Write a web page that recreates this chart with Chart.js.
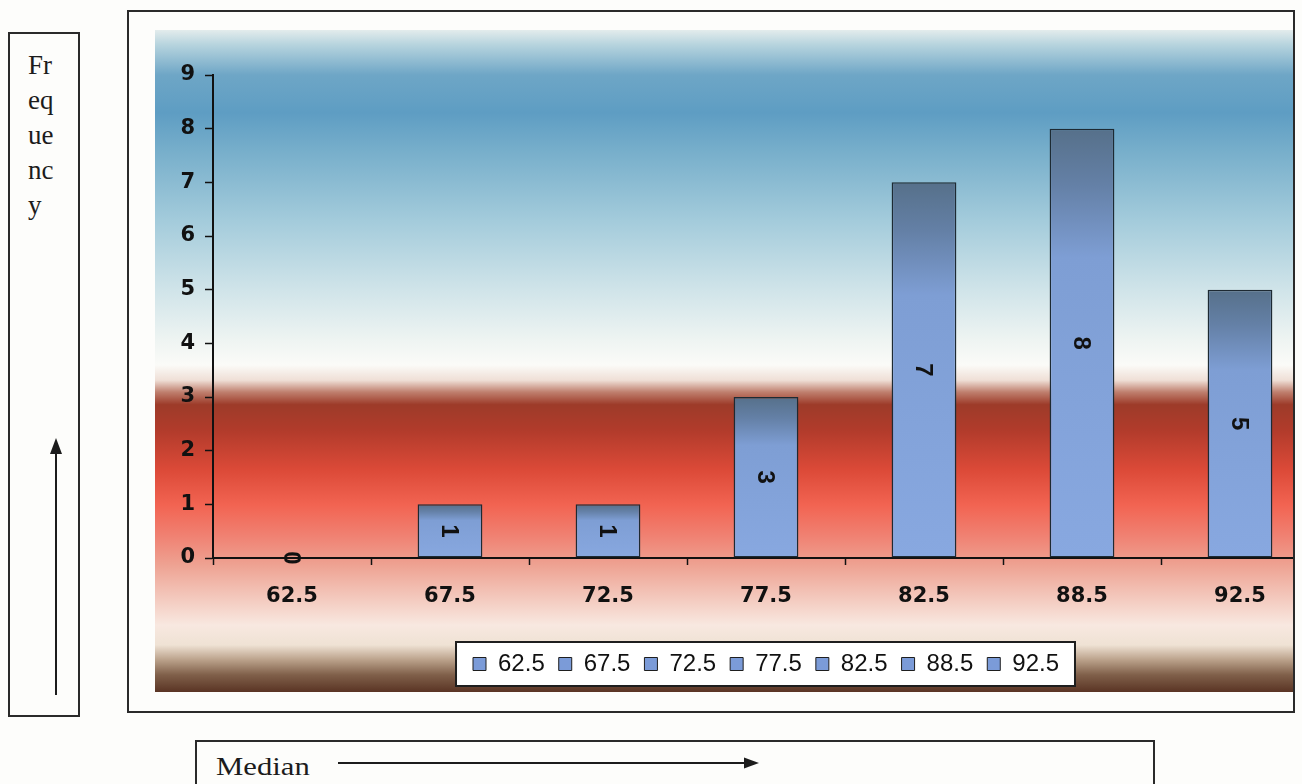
<!DOCTYPE html>
<html>
<head>
<meta charset="utf-8">
<script src="https://cdn.jsdelivr.net/npm/chart.js@4.4.1/dist/chart.umd.min.js"></script>
<style>
  html, body { margin: 0; padding: 0; background: #fdfdfb; }
  body { width: 1302px; height: 784px; position: relative; overflow: hidden; }
  #frame {
    position: absolute; left: 127px; top: 10px; width: 1168px; height: 703px;
    box-sizing: border-box; border: 2px solid #2a2a2a; overflow: hidden; background: #fdfdfb;
  }
  #chart { position: absolute; left: 26px; top: 18px; }
  #ybox {
    position: absolute; left: 8px; top: 32px; width: 72px; height: 685px;
    box-sizing: border-box; border: 2px solid #2a2a2a; background: #fdfdfb;
  }
  #ybox .title {
    position: absolute; left: 18px; top: 14px;
    font-family: "Liberation Serif", "DejaVu Serif", serif; font-size: 27px; line-height: 35px; color: #1c1c1c;
  }
  #xbox {
    position: absolute; left: 195px; top: 740px; width: 960px; height: 70px;
    box-sizing: border-box; border: 2px solid #2a2a2a; background: #fdfdfb;
  }
  #xbox .title {
    position: absolute; left: 19px; top: 10px; transform-origin: 0 0; transform: scaleX(1.18);
    font-family: "Liberation Serif", "DejaVu Serif", serif; font-size: 26px; line-height: 30px; color: #1c1c1c;
  }
  svg.arrow { position: absolute; overflow: visible; }
</style>
</head>
<body>

<div id="ybox">
  <div class="title">Fr<br>eq<br>ue<br>nc<br>y</div>
  <svg class="arrow" width="70" height="680" style="left:0;top:0">
    <line x1="46" y1="661" x2="46" y2="418" stroke="#1c1c1c" stroke-width="2"/>
    <polygon points="46,404 40,420 52,420" fill="#1c1c1c"/>
  </svg>
</div>

<div id="frame">
  <canvas id="chart" width="1164" height="662"></canvas>
</div>

<div id="xbox">
  <div class="title">Median</div>
  <svg class="arrow" width="960" height="60" style="left:0;top:0">
    <line x1="141" y1="21" x2="550" y2="21" stroke="#1c1c1c" stroke-width="2"/>
    <polygon points="562,21 547,15.5 547,26.5" fill="#1c1c1c"/>
  </svg>
</div>

<script>
// Median class marks and how many items fall in each
const medians = ['62.5', '67.5', '72.5', '77.5', '82.5', '88.5', '92.5'];
const frequencies = [0, 1, 1, 3, 7, 8, 5];
const yTicks = [0, 1, 2, 3, 4, 5, 6, 7, 8, 9];

const barFlat = '#84a4dc';
const legendSwatch = '#7b9bd8';

// Plot background: sky blue on top, fading to white, then a red band and brown base
const backdrop = {
  id: 'backdrop',
  beforeDraw(chart) {
    const { ctx, width, height } = chart;
    const g = ctx.createLinearGradient(0, 0, 0, height);
    const stops = [
      [0.000, '#e3ecec'], [0.022, '#b7d4de'], [0.068, '#6ea6c6'], [0.125, '#5e9dc3'],
      [0.185, '#78afcb'], [0.287, '#a3cbdb'], [0.393, '#d0e4e9'], [0.468, '#eef4f2'],
      [0.506, '#fbfbf8'], [0.529, '#efdfd6'], [0.547, '#bf7f6e'], [0.566, '#9d3b29'],
      [0.604, '#b13b2b'], [0.665, '#dc4a38'], [0.718, '#f26452'], [0.764, '#f08172'],
      [0.808, '#eea292'], [0.853, '#f3c5b9'], [0.899, '#f8e8e0'], [0.929, '#efe2d4'],
      [0.952, '#b9a089'], [0.974, '#80604a'], [1.000, '#5a3424']
    ];
    stops.forEach(([o, c]) => g.addColorStop(o, c));
    ctx.save();
    ctx.fillStyle = g;
    ctx.fillRect(0, 0, width, height);

    // white framed panel behind the legend entries
    const lg = chart.legend;
    if (lg && lg.legendHitBoxes && lg.legendHitBoxes.length) {
      const hb = lg.legendHitBoxes;
      const first = hb[0], last = hb[hb.length - 1];
      const l = first.left - 17, r = last.left + last.width + 16;
      const t = first.top - 10, b = first.top + first.height + 10;
      ctx.fillStyle = '#ffffff';
      ctx.fillRect(l, t, r - l, b - t);
      ctx.strokeStyle = '#1e1e1e';
      ctx.lineWidth = 2;
      ctx.strokeRect(l, t, r - l, b - t);
    }
    ctx.restore();
  }
};

// Value of each bar, rotated a quarter turn, at the middle of the bar
const barValues = {
  id: 'barValues',
  afterDatasetsDraw(chart) {
    const { ctx } = chart;
    const meta = chart.getDatasetMeta(0);
    ctx.save();
    ctx.font = 'bold 24px "Liberation Sans", Arial, sans-serif';
    ctx.fillStyle = '#111';
    ctx.textAlign = 'center';
    ctx.textBaseline = 'middle';
    meta.data.forEach((bar, i) => {
      const cy = (bar.y + bar.base) / 2;
      ctx.save();
      ctx.translate(bar.x, cy);
      ctx.rotate(Math.PI / 2);
      ctx.fillText(String(frequencies[i]), 0, 1);
      ctx.restore();
    });
    ctx.restore();
  }
};

function barFill(c) {
  const chart = c.chart;
  if (c.type !== 'data' || !chart.chartArea || !chart.scales.y) return barFlat;
  const y = chart.scales.y;
  const top = y.getPixelForValue(c.raw);
  const base = y.getPixelForValue(0);
  if (base - top < 1) return barFlat;
  const g = chart.ctx.createLinearGradient(0, top, 0, base);
  g.addColorStop(0, '#56708a');
  g.addColorStop(0.13, '#6480a6');
  g.addColorStop(0.3, '#7e9ed4');
  g.addColorStop(1, '#88a8e0');
  return g;
}

new Chart(document.getElementById('chart'), {
  type: 'bar',
  data: {
    labels: medians,
    datasets: [{
      label: 'Frequency',
      data: frequencies,
      backgroundColor: barFill,
      borderColor: '#1d2a33',
      borderWidth: 1.5,
      borderSkipped: false,
      barPercentage: 0.41,
      categoryPercentage: 1.0
    }]
  },
  options: {
    responsive: false,
    animation: false,
    layout: { padding: { top: 45, left: 0, right: 0, bottom: 6 } },
    scales: {
      x: {
        offset: true,
        grid: { display: true, offset: true, drawOnChartArea: false, drawTicks: true,
                tickLength: 7, tickColor: '#111', tickWidth: 1.5 },
        border: { display: true, color: '#111', width: 2 },
        ticks: { color: '#111', padding: 19, maxRotation: 0,
                 font: { family: '"DejaVu Sans", sans-serif', size: 21, weight: 'bold' } },
        afterFit(s) { s.height = 80; }
      },
      y: {
        min: 0, max: 9,
        afterBuildTicks(s) { s.ticks = yTicks.map(v => ({ value: v })); },
        grid: { display: true, drawOnChartArea: false, drawTicks: true,
                tickLength: 8, tickColor: '#111', tickWidth: 1.5 },
        border: { display: true, color: '#111', width: 2 },
        ticks: { color: '#111', padding: 10,
                 font: { family: '"DejaVu Sans", sans-serif', size: 21, weight: 'bold' } },
        afterFit(s) { s.width = 58; }
      }
    },
    plugins: {
      tooltip: { enabled: false },
      legend: {
        position: 'bottom',
        fullSize: false,
        labels: {
          boxWidth: 13, boxHeight: 13, padding: 14, color: '#111',
          font: { family: '"Liberation Sans", Arial, sans-serif', size: 24 },
          generateLabels: () => medians.map((m, i) => ({
            text: m, fillStyle: legendSwatch, strokeStyle: '#1e1e1e', lineWidth: 1,
            hidden: false, index: i, datasetIndex: 0, fontColor: '#111'
          }))
        }
      }
    }
  },
  plugins: [backdrop, barValues]
});
</script>
</body>
</html>
